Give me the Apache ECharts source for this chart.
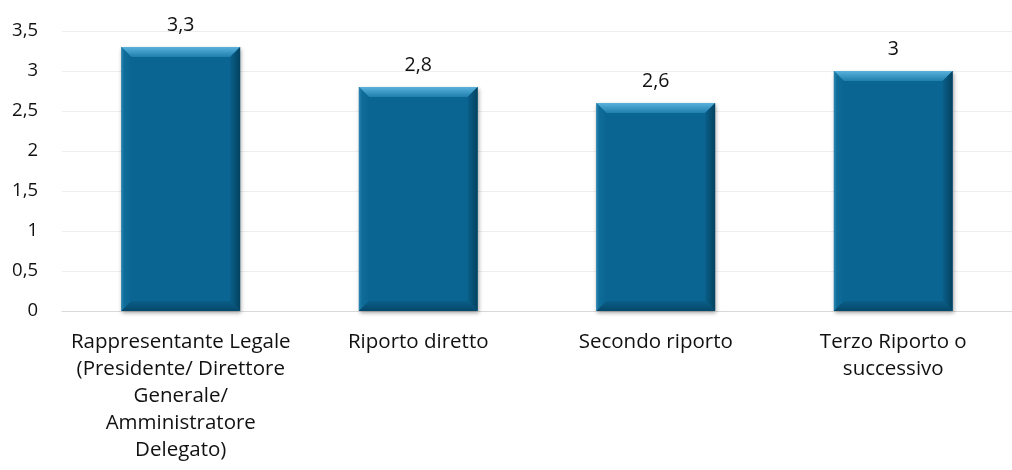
<!DOCTYPE html>
<html>
<head>
<meta charset="utf-8">
<script src="https://cdn.jsdelivr.net/npm/echarts@6/dist/echarts.min.js"></script>
<style>
  html, body { margin: 0; padding: 0; background: #ffffff; }
  #chart { width: 1012px; height: 470px; }
</style>
</head>
<body>
<div id="chart"></div>
<script>
// Categories (reporting level) and their average values
const categories = [
  'Rappresentante Legale\n(Presidente/ Direttore\nGenerale/\nAmministratore\nDelegato)',
  'Riporto diretto',
  'Secondo riporto',
  'Terzo Riporto o\nsuccessivo'
];
const values = [3.3, 2.8, 2.6, 3];
const yTicks = { min: 0, max: 3.5, interval: 0.5 };

const FONT = '"Open Sans", sans-serif';
const toComma = v => String(v).replace('.', ',');

// Bevelled edges drawn on top of each bar
function bevel(params, api) {
  const i = api.value(0);
  const v = api.value(1);
  const top = api.coord([i, v]);
  const base = api.coord([i, 0]);
  const w = api.size([1, 0])[0] * 0.5;
  const x0 = top[0] - w / 2, x1 = top[0] + w / 2;
  const y0 = top[1], y1 = base[1];
  const d = 10;
  return {
    type: 'group',
    children: [
      { type: 'polygon', shape: { points: [[x0, y0], [x1, y0], [x1 - d, y0 + d], [x0 + d, y0 + d]] },
        style: { fill: new echarts.graphic.LinearGradient(0, 0, 0, 1, [
          { offset: 0, color: '#5ab2dc' }, { offset: 1, color: '#1f7fae' }]) } },
      { type: 'polygon', shape: { points: [[x0, y0], [x0 + d, y0 + d], [x0 + d, y1 - d], [x0, y1]] },
        style: { fill: new echarts.graphic.LinearGradient(0, 0, 1, 0, [
          { offset: 0, color: '#2a86b3' }, { offset: 0.3, color: '#0f6c99' }, { offset: 1, color: '#0b6592' }]) } },
      { type: 'polygon', shape: { points: [[x1, y0], [x1 - d, y0 + d], [x1 - d, y1 - d], [x1, y1]] },
        style: { fill: new echarts.graphic.LinearGradient(0, 0, 1, 0, [
          { offset: 0, color: '#0a5f8a' }, { offset: 1, color: '#04425f' }]) } },
      { type: 'polygon', shape: { points: [[x0, y1], [x0 + d, y1 - d], [x1 - d, y1 - d], [x1, y1]] },
        style: { fill: new echarts.graphic.LinearGradient(0, 0, 0, 1, [
          { offset: 0, color: '#0a5e88' }, { offset: 1, color: '#05486a' }]) } }
    ]
  };
}

const chart = echarts.init(document.getElementById('chart'), null, { renderer: 'canvas' });
chart.setOption({
  animation: false,
  backgroundColor: '#ffffff',
  grid: { left: 62, right: -10, top: 31, bottom: 159, containLabel: false },
  xAxis: {
    type: 'category',
    data: categories,
    axisLine: { show: true, lineStyle: { color: '#d9d9d9', width: 1 } },
    axisTick: { show: false },
    axisLabel: {
      interval: 0, margin: 18, color: '#111111',
      fontFamily: FONT, fontSize: 20.5, lineHeight: 27, align: 'center'
    }
  },
  yAxis: {
    type: 'value',
    min: yTicks.min, max: yTicks.max, interval: yTicks.interval,
    axisLine: { show: false },
    axisTick: { show: false },
    splitLine: { lineStyle: { color: '#eeeeee', width: 1 } },
    axisLabel: {
      margin: 24, color: '#111111', fontFamily: FONT, fontSize: 18.5,
      formatter: v => toComma(v)
    }
  },
  series: [
    {
      type: 'bar',
      data: values,
      barWidth: '50%',
      itemStyle: {
        color: '#0b6592',
        shadowColor: 'rgba(0,0,0,0.35)', shadowBlur: 4, shadowOffsetX: 1, shadowOffsetY: 2
      },
      label: {
        show: true, position: 'top', distance: 12,
        color: '#111111', fontFamily: FONT, fontSize: 19.5,
        formatter: p => toComma(p.value)
      },
      z: 2
    },
    {
      type: 'custom',
      renderItem: bevel,
      data: values.map((v, i) => [i, v]),
      encode: { x: 0, y: 1 },
      silent: true,
      z: 3
    }
  ]
});
</script>
</body>
</html>
